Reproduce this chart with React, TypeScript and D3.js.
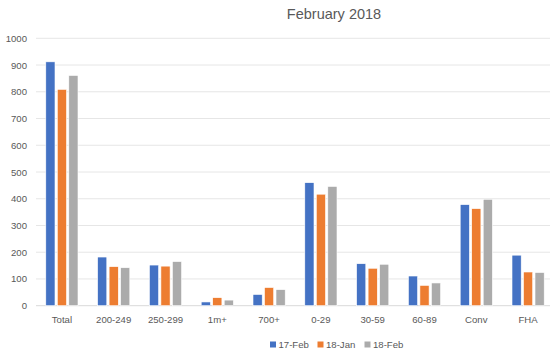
import React from "react";
import * as d3 from "d3";

const categories = ["Total", "200-249", "250-299", "1m+", "700+", "0-29", "30-59", "60-89", "Conv", "FHA"];
const seriesNames = ["17-Feb", "18-Jan", "18-Feb"];
const feb17 = [912, 182, 152, 14, 42, 460, 157, 111, 378, 189];
const jan18 = [809, 146, 148, 30, 68, 417, 140, 76, 363, 126];
const feb18 = [861, 142, 165, 21, 60, 446, 155, 85, 398, 124];
const yTicks = [0, 100, 200, 300, 400, 500, 600, 700, 800, 900, 1000];
const colors = ["#4472C4", "#ED7D31", "#ABABAB"];

const W = 550;
const H = 358;
const FONT = "'Liberation Sans', Arial, sans-serif";

export default function App() {
  const series = [feb17, jan18, feb18];
  const x = d3.scaleBand<string>().domain(categories).range([36, 554]).paddingInner(0.334).paddingOuter(0.167);
  const xi = d3.scaleBand<number>().domain([0, 1, 2]).range([0, x.bandwidth()]).paddingInner(0.2).paddingOuter(0.1);
  const y = d3.scaleLinear().domain([0, 1000]).range([305.7, 38.3]);

  const legendX = [270, 317.5, 364.5];

  return (
    <svg width={W} height={H} style={{ position: "absolute", left: 0, top: 0, background: "#fff" }} fontFamily={FONT}>
      <text x={334} y={19} textAnchor="middle" fontSize={14.5} fill="#595959">February 2018</text>
      {yTicks.map((t) => (
        <g key={t}>
          <line x1={36} x2={W} y1={y(t)} y2={y(t)} stroke={t === 0 ? "#d9d9d9" : "#e6e6e6"} strokeWidth={1} />
          <text x={27} y={y(t) + 3.5} textAnchor="end" fontSize={9.6} fill="#595959">{t}</text>
        </g>
      ))}
      {categories.map((c, i) => (
        <g key={c}>
          {series.map((s, j) => (
            <rect
              key={j}
              x={(x(c) as number) + (xi(j) as number)}
              y={y(s[i])}
              width={xi.bandwidth()}
              height={y(0) - y(s[i])}
              fill={colors[j]}
              stroke="#fff"
              strokeWidth={0.6}
            />
          ))}
          <text x={(x(c) as number) + x.bandwidth() / 2} y={322.5} textAnchor="middle" fontSize={9.6} fill="#595959">{c}</text>
        </g>
      ))}
      {seriesNames.map((n, j) => (
        <g key={n}>
          <rect x={legendX[j]} y={341.5} width={6} height={6} fill={colors[j]} />
          <text x={legendX[j] + 8.5} y={347.5} fontSize={9.6} fill="#595959">{n}</text>
        </g>
      ))}
    </svg>
  );
}
